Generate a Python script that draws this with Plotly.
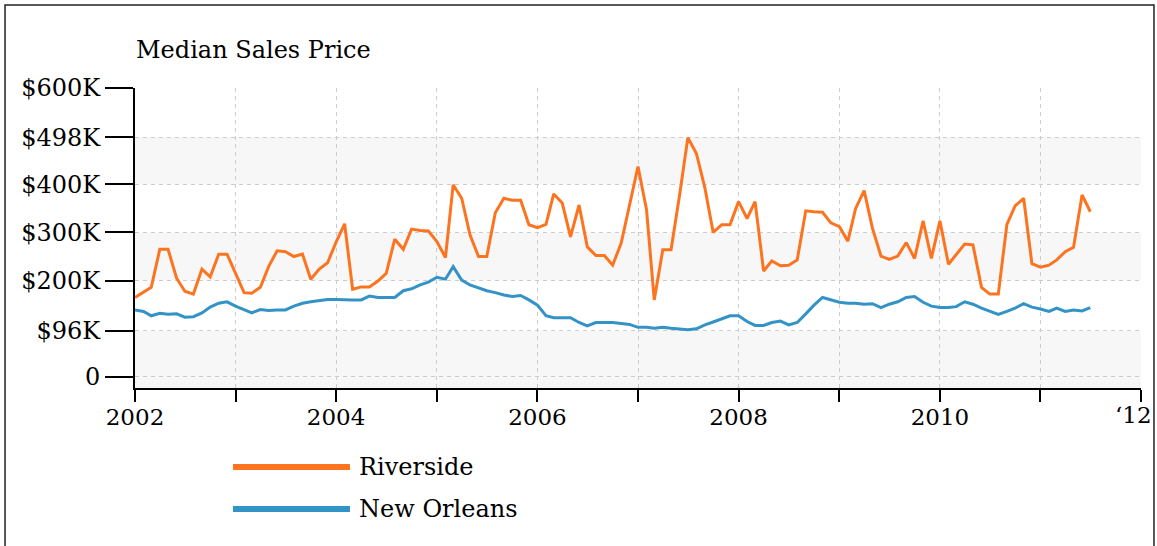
import pandas as pd
import plotly.graph_objects as go

# ---- data (thousands of dollars, monthly from Jan 2002) ----
series_names = ["Riverside", "New Orleans"]
start_month = "2002-01-01"

riverside = [165, 176, 186, 265, 265, 205, 178, 172, 224, 208, 255, 255,
             215, 175, 174, 186, 229, 262, 260, 250, 255, 203, 224, 237,
             280, 318, 182, 187, 187, 199, 215, 286, 265, 307, 304, 303,
             281, 248, 399, 371, 295, 250, 250, 341, 371, 367, 367, 316,
             310, 317, 380, 361, 291, 357, 270, 252, 252, 232, 278, 357,
             437, 347, 160, 264, 264, 378, 497, 464, 392, 300, 316, 316,
             364, 329, 364, 220, 241, 231, 232, 243, 345, 343, 342, 320,
             312, 282, 350, 387, 309, 251, 244, 251, 279, 246, 324, 246,
             324, 234, 255, 276, 274, 186, 172, 172, 316, 355, 371, 235,
             228, 232, 243, 260, 269, 378, 343]

new_orleans = [139, 136, 127, 132, 130, 131, 124, 125, 133, 145, 153, 156,
               147, 140, 133, 140, 138, 139, 139, 147, 153, 156, 158, 161,
               161, 160, 160, 160, 168, 165, 165, 165, 179, 183, 191, 197,
               207, 203, 229, 201, 191, 185, 179, 175, 170, 167, 169, 160,
               149, 127, 123, 123, 123, 113, 106, 113, 113, 113, 111, 109,
               103, 103, 101, 103, 101, 100, 98, 100, 108, 114, 120, 127,
               127, 115, 107, 107, 113, 116, 108, 113, 131, 149, 165, 160,
               155, 153, 153, 151, 152, 144, 151, 156, 165, 167, 155, 147,
               144, 144, 146, 156, 151, 143, 136, 130, 136, 143, 152, 145,
               141, 136, 143, 136, 139, 137, 144]

y_tick_values = [0, 96000, 200000, 300000, 400000, 498000, 600000]
y_tick_labels = ["0", "$96K", "$200K", "$300K", "$400K", "$498K", "$600K"]
year_ticks = list(range(2002, 2013))
year_labels = ["2002", "", "2004", "", "2006", "", "2008", "", "2010", "", "\u201812"]
title_text = "Median Sales Price"

colors = ["#fc7420", "#3393c6"]
FONT = "DejaVu Serif"

dates = pd.date_range(start_month, periods=len(riverside), freq="MS")
year_dates = [pd.Timestamp(f"{y}-01-01") for y in year_ticks]

fig = go.Figure()
for name, vals, col in zip(series_names, [riverside, new_orleans], colors):
    fig.add_trace(go.Scatter(
        x=dates, y=[v * 1000 for v in vals], mode="lines", name=name,
        line=dict(color=col, width=3), showlegend=False, hoverinfo="skip"))

# alternating bands
band_color = "#f7f7f7"
bands = [(-23000, y_tick_values[1]), (y_tick_values[2], y_tick_values[3]),
         (y_tick_values[4], y_tick_values[5])]
for y0, y1 in bands:
    fig.add_shape(type="rect", xref="paper", yref="y", x0=0, x1=1, y0=y0, y1=y1,
                  fillcolor=band_color, line=dict(width=0), layer="below")

# outer frame
fig.add_shape(type="rect", xref="paper", yref="paper",
              x0=-0.1292, x1=1.0129, y0=-0.6, y1=1.2767,
              line=dict(color="#222", width=1.5), fillcolor="rgba(0,0,0,0)",
              layer="above")

# custom legend
legend_rows = [-0.2633, -0.4033]
for name, col, ly in zip(series_names, colors, legend_rows):
    fig.add_shape(type="line", xref="paper", yref="paper",
                  x0=0.0974, x1=0.2137, y0=ly, y1=ly,
                  line=dict(color=col, width=6))
    fig.add_annotation(xref="paper", yref="paper", x=0.2207, y=ly,
                       text=name, showarrow=False, xanchor="left",
                       yanchor="middle", font=dict(family=FONT, size=24, color="black"))

fig.add_annotation(xref="paper", yref="paper", x=-0.001, y=1.1267,
                   text=title_text, showarrow=False, xanchor="left", yanchor="middle",
                   font=dict(family=FONT, size=24, color="black"))

# last year label drawn as annotation so it is not hidden at the div edge
fig.add_annotation(xref="x", yref="paper", x=year_dates[-1], y=-0.09,
                   text=year_labels[-1], showarrow=False, xanchor="center",
                   yanchor="middle", xshift=-8,
                   font=dict(family=FONT, size=23, color="black"))
axis_labels = year_labels[:-1] + [""]

grid_dash = "4px,4px"
fig.update_layout(
    width=1157, height=546,
    margin=dict(l=135, r=16, t=88, b=158),
    paper_bgcolor="white", plot_bgcolor="white",
    font=dict(family=FONT, size=22, color="black"),
    hovermode=False,
    xaxis=dict(
        type="date",
        range=[year_dates[0], year_dates[-1]],
        tickvals=year_dates,
        ticktext=axis_labels,
        ticks="outside", ticklen=12, tickwidth=2, tickcolor="black",
        showline=True, linecolor="black", linewidth=2,
        showgrid=True, gridcolor="#cccccc", gridwidth=1, griddash=grid_dash,
        zeroline=False, tickfont=dict(family=FONT, size=23, color="black"),
        ticklabelstandoff=-5,
    ),
    yaxis=dict(
        range=[-23000, 600000],
        tickvals=y_tick_values, ticktext=y_tick_labels,
        ticks="outside", ticklen=28, tickwidth=2, tickcolor="black",
        showline=True, linecolor="black", linewidth=2,
        showgrid=True, gridcolor="#cccccc", gridwidth=1, griddash=grid_dash,
        zeroline=False, tickfont=dict(family=FONT, size=24, color="black"),
    ),
)

fig.write_html(
    "out.html",
    config={"displayModeBar": False},
    post_script="document.body.style.margin='0';document.body.style.overflow='hidden';",
)
